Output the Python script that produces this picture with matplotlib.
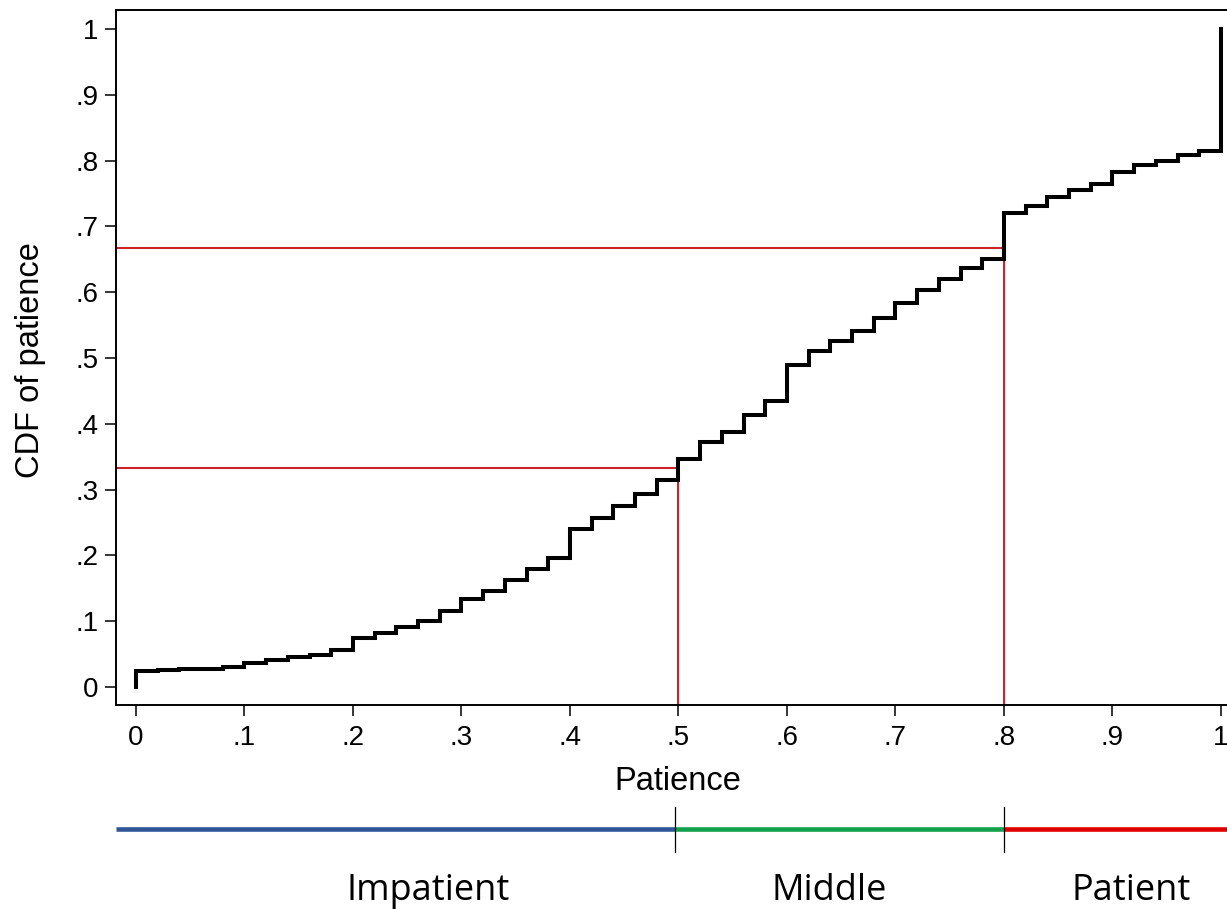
import matplotlib
matplotlib.use('Agg')
import matplotlib.pyplot as plt
from matplotlib.lines import Line2D

# Valores de paciencia (inicio de cada degrau) e CDF correspondente
paciencia = [0.00, 0.02, 0.04, 0.06, 0.08, 0.10, 0.12, 0.14, 0.16, 0.18,
             0.20, 0.22, 0.24, 0.26, 0.28, 0.30, 0.32, 0.34, 0.36, 0.38,
             0.40, 0.42, 0.44, 0.46, 0.48, 0.50, 0.52, 0.54, 0.56, 0.58,
             0.60, 0.62, 0.64, 0.66, 0.68, 0.70, 0.72, 0.74, 0.76, 0.78,
             0.80, 0.82, 0.84, 0.86, 0.88, 0.90, 0.92, 0.94, 0.96, 0.98,
             1.00]
cdf = [0.025, 0.026, 0.027, 0.028, 0.031, 0.036, 0.041, 0.045, 0.049, 0.056,
       0.075, 0.082, 0.091, 0.101, 0.115, 0.133, 0.146, 0.162, 0.179, 0.196,
       0.240, 0.257, 0.275, 0.293, 0.315, 0.347, 0.373, 0.388, 0.413, 0.435,
       0.490, 0.510, 0.526, 0.541, 0.560, 0.583, 0.604, 0.620, 0.636, 0.650,
       0.721, 0.731, 0.744, 0.756, 0.765, 0.782, 0.793, 0.799, 0.809, 0.815,
       1.000]

# Cortes (quantis 1/3 e 2/3) e grupos
cortes_x = [0.5, 0.8]
cortes_y = [1 / 3, 2 / 3]
grupos = ['Impatient', 'Middle', 'Patient']
grupos_x_px = [428, 829, 1131]
cores_grupos = ['#2f5597', '#13a04a', '#e00000']
limites_grupos = [0.497, 0.8]

W, H = 1227, 909
fig = plt.figure(figsize=(W / 100, H / 100), dpi=100)

xmin, xmax = -0.0184, 1.0184
ymin, ymax = -0.0274, 1.0296
esq, topo, base = 116, 9.5, 705
larg = (xmax - xmin) * 1085
ax = fig.add_axes([esq / W, 1 - base / H, larg / W, (base - topo) / H])
ax.set_xlim(xmin, xmax)
ax.set_ylim(ymin, ymax)

# Linhas vermelhas dos quantis
for cx, cy in zip(cortes_x, cortes_y):
    ax.plot([xmin, cx], [cy, cy], color='#cc2229', lw=1.5, zorder=2)
    ax.plot([cx, cx], [ymin, cy], color='#cc2229', lw=1.5, zorder=2)

# Curva em degraus
ax.step([0] + paciencia, [0] + cdf, where='post', color='black', lw=2.9,
        solid_joinstyle='miter', zorder=3)

fonte_eixo = ['Liberation Sans Narrow', 'Liberation Sans', 'DejaVu Sans']
ticks = [0, .1, .2, .3, .4, .5, .6, .7, .8, .9, 1]
rotulos = ['0', '.1', '.2', '.3', '.4', '.5', '.6', '.7', '.8', '.9', '1']
ax.set_xticks(ticks)
ax.set_xticklabels(rotulos, family=fonte_eixo, fontsize=20)
ax.set_yticks(ticks)
ax.set_yticklabels(rotulos, family=fonte_eixo, fontsize=20)
ax.tick_params(axis='both', length=8, width=1.1, direction='out')
ax.tick_params(axis='x', pad=6.5)
ax.tick_params(axis='y', pad=4.5)
for s in ax.spines.values():
    s.set_linewidth(1.4)

fig.text(678 / W, 1 - 790 / H, 'Patience', ha='center', va='baseline',
         family=['Liberation Sans', 'DejaVu Sans'], fontsize=23.5)
fig.text(30 / W, 1 - 360 / H, 'CDF of patience', ha='center', va='center',
         rotation=90, family=['Liberation Sans', 'DejaVu Sans'], fontsize=23.5)

# Faixa colorida dos grupos
faixa = fig.add_axes([esq / W, 1 - 860 / H, larg / W, 60 / H])
faixa.set_xlim(xmin, xmax)
faixa.set_ylim(860, 800)
faixa.axis('off')
bordas = [xmin] + limites_grupos + [xmax]
for i, cor in enumerate(cores_grupos):
    faixa.plot([bordas[i], bordas[i + 1]], [829, 829], color=cor, lw=3.3,
               solid_capstyle='butt')
for b in limites_grupos:
    faixa.plot([b, b], [807, 852], color='black', lw=0.9, zorder=3)

for nome, px in zip(grupos, grupos_x_px):
    fig.text(px / W, 1 - 900 / H, nome, ha='center', va='baseline',
             family=['Open Sans', 'DejaVu Sans'], fontsize=26)

fig.savefig('out.png', dpi=100)
